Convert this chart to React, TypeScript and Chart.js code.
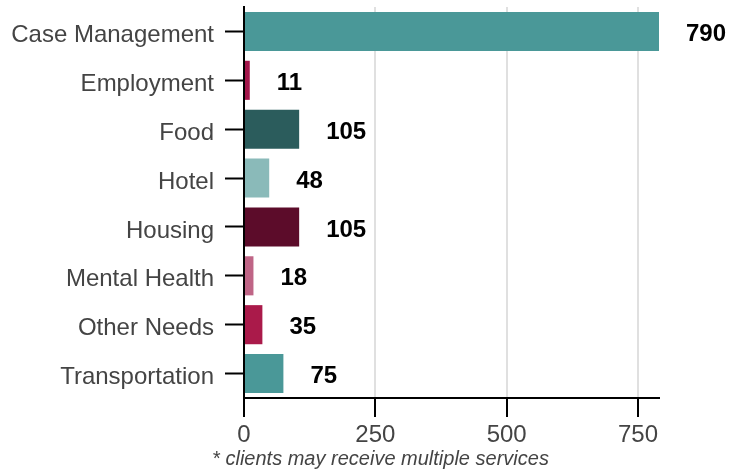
import React, { useEffect, useRef } from "react";
import { Chart, registerables } from "chart.js";

Chart.register(...registerables);

const categories = [
  "Case Management",
  "Employment",
  "Food",
  "Hotel",
  "Housing",
  "Mental Health",
  "Other Needs",
  "Transportation",
];
const values = [790, 11, 105, 48, 105, 18, 35, 75];
const barColors = [
  "#4a9898",
  "#a3164a",
  "#2b5c5c",
  "#8abab9",
  "#5c0c2a",
  "#bf6586",
  "#aa1a4a",
  "#4a9898",
];
const xTickValues = [0, 250, 500, 750];
const footnote = "* clients may receive multiple services";

const FONT = '"Liberation Sans", Arial, Helvetica, sans-serif';

const labelPlugin = {
  id: "valueLabels",
  afterDatasetsDraw(chart: any) {
    const ctx = chart.ctx;
    const meta = chart.getDatasetMeta(0);
    ctx.save();
    ctx.font = `bold 24px ${FONT}`;
    ctx.fillStyle = "#000";
    ctx.textAlign = "left";
    ctx.textBaseline = "middle";
    meta.data.forEach((bar: any, i: number) => {
      ctx.fillText(String(values[i]), bar.x + 27, bar.y + 3);
    });
    ctx.font = `italic 20px ${FONT}`;
    ctx.fillStyle = "#444";
    ctx.textAlign = "center";
    ctx.textBaseline = "alphabetic";
    ctx.fillText(footnote, chart.width / 2 + 8, 465);
    ctx.restore();
  },
};

export default function App() {
  const ref = useRef<HTMLCanvasElement>(null);
  useEffect(() => {
    if (!ref.current) return;
    const chart = new Chart(ref.current, {
      type: "bar",
      data: {
        labels: categories,
        datasets: [
          {
            data: values,
            backgroundColor: barColors,
            barPercentage: 1,
            categoryPercentage: 0.8,
          },
        ],
      },
      options: {
        indexAxis: "y",
        animation: false,
        responsive: false,
        maintainAspectRatio: false,
        devicePixelRatio: 1,
        layout: { padding: { top: 7, right: 86, left: 0, bottom: 0 } },
        plugins: {
          legend: { display: false },
          tooltip: { enabled: false },
        },
        scales: {
          x: {
            min: 0,
            max: Math.max(...values),
            afterFit: (s: any) => {
              s.height = 73;
              s.paddingLeft = 0;
              s.paddingRight = 0;
            },
            afterBuildTicks: (s: any) => {
              s.ticks = xTickValues.map((v) => ({ value: v }));
            },
            border: { color: "#000", width: 2 },
            grid: {
              color: "#e0e0e0",
              lineWidth: 2,
              tickColor: "#000",
              tickWidth: 2,
              tickLength: 19,
            },
            ticks: {
              color: "#444",
              font: { family: FONT, size: 24 },
              padding: 4,
              maxRotation: 0,
            },
          },
          y: {
            afterFit: (s: any) => {
              s.width = 244;
              s.paddingTop = 0;
              s.paddingBottom = 0;
            },
            border: { color: "#000", width: 2 },
            grid: {
              drawOnChartArea: false,
              offset: false,
              tickColor: "#000",
              tickWidth: 2,
              tickLength: 19,
            },
            ticks: {
              color: "#444",
              font: { family: FONT, size: 24 },
              padding: 11,
              labelOffset: 4,
            },
          },
        },
      },
      plugins: [labelPlugin],
    });
    return () => chart.destroy();
  }, []);
  return (
    <div style={{ position: "absolute", left: 0, top: 0, width: 745, height: 471 }}>
      <canvas ref={ref} width={745} height={471} style={{ display: "block" }} />
    </div>
  );
}
